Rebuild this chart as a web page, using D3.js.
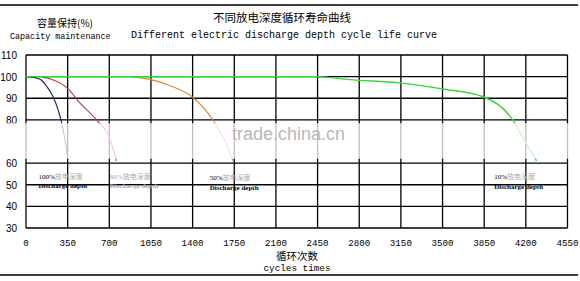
<!DOCTYPE html>
<head>
<meta charset="utf-8">
<style>
    body { margin: 0; background: #fff; }
    text { fill: #000; }
    .mono { font-family: "Liberation Mono", "DejaVu Sans Mono", monospace; }
    .cjk { font-family: "Noto Sans CJK SC", sans-serif; }
</style>
</head>
<body>
<script src="https://d3js.org/d3.v7.min.js"></script>
<script>

////////// DATA //////////

const xTicks = [0, 350, 700, 1050, 1400, 1750, 2100, 2450, 2800, 3150, 3500, 3850, 4200, 4550];
const yTicks = [30, 40, 50, 60, 80, 90, 100, 110];

// cycles / capacity % per discharge depth
const cyc100 = [0, 90, 134, 180, 227, 270, 294, 330, 350];
const cap100 = [100, 99.3, 98.2, 95, 90.8, 84.6, 80, 70, 63];
const cyc80 = [130, 200, 350, 450, 600, 700, 760];
const cap80 = [100, 99, 94.6, 88, 79.5, 72, 61];
const cyc50 = [880, 1050, 1200, 1410, 1570, 1690, 1740];
const cap50 = [100, 98.6, 96, 90, 80, 68, 61];
const cyc10 = [0, 2450, 2720, 3150, 3500, 3840, 4090, 4205, 4290];
const cap10 = [100, 100, 98.6, 97, 94.3, 90.7, 80, 69, 61];

const seriesNames = ['100%', '80%', '50%', '10%'];
const seriesColors = ['#1c1f5e', '#c23a3a', '#d68a3a', '#3fd23f'];

////////// SETUP //////////

const width = 580, height = 281;
let svg = d3.select('body').append('svg')
    .attr('width', width)
    .attr('height', height);

let x = d3.scaleLinear().domain([0, 4550]).range([26, 567.5]);
let y = d3.scaleLinear().domain([30, 110]).range([228, 55]);

// frame lines
svg.append('line').attr('x1', 0).attr('x2', 578).attr('y1', 5).attr('y2', 5)
    .attr('stroke', '#000').attr('stroke-width', 1.5);
svg.append('line').attr('x1', 0).attr('x2', 578).attr('y1', 275).attr('y2', 275)
    .attr('stroke', '#000').attr('stroke-width', 1.5);

// titles
svg.append('text').attr('class', 'cjk').attr('x', 65).attr('y', 27)
    .attr('text-anchor', 'middle').style('font-size', '10px').text('容量保持(%)');
svg.append('text').attr('class', 'mono').attr('x', 10).attr('y', 39)
    .style('font-size', '8.4px').text('Capacity maintenance');
svg.append('text').attr('class', 'cjk').attr('x', 282).attr('y', 22)
    .attr('text-anchor', 'middle').style('font-size', '11.5px').text('不同放电深度循环寿命曲线');
svg.append('text').attr('class', 'mono').attr('x', 131).attr('y', 38)
    .style('font-size', '10px').text('Different electric discharge depth cycle life curve');

////////// GRID //////////

let grid = svg.append('g');
grid.selectAll('.h').data(yTicks).enter().append('line')
    .attr('x1', x(0)).attr('x2', x(4550))
    .attr('y1', d => y(d)).attr('y2', d => y(d))
    .attr('stroke', '#000').attr('stroke-width', 1.3);
grid.selectAll('.v').data(xTicks).enter().append('line')
    .attr('x1', d => x(d)).attr('x2', d => x(d))
    .attr('y1', y(110)).attr('y2', y(30))
    .attr('stroke', '#000').attr('stroke-width', 1.3);

// tick labels
svg.append('g').selectAll('text').data(yTicks).enter().append('text')
    .attr('x', 17).attr('y', d => y(d) + 4)
    .attr('text-anchor', 'end')
    .style('font-family', 'Liberation Sans, Arial, sans-serif')
    .style('font-size', '10px')
    .text(d => d);
svg.append('g').selectAll('text').data(xTicks).enter().append('text')
    .attr('class', 'mono')
    .attr('x', d => x(d)).attr('y', 246)
    .attr('text-anchor', 'middle')
    .style('font-size', '9.2px')
    .text(d => d);

svg.append('text').attr('class', 'cjk').attr('x', 297).attr('y', 259.5)
    .attr('text-anchor', 'middle').style('font-size', '10.5px').text('循环次数');
svg.append('text').attr('class', 'mono').attr('x', 297).attr('y', 271)
    .attr('text-anchor', 'middle').style('font-size', '9.3px').text('cycles times');

////////// CURVES //////////

let line = d3.line()
    .x(d => x(d[0]))
    .y(d => y(d[1]))
    .curve(d3.curveMonotoneX);

const series = [
    d3.zip(cyc100, cap100),
    d3.zip(cyc80, cap80),
    d3.zip(cyc50, cap50),
    d3.zip(cyc10, cap10)
];

svg.append('g').selectAll('path').data(series).enter().append('path')
    .attr('d', line)
    .attr('fill', 'none')
    .attr('stroke', (d, i) => seriesColors[i])
    .attr('stroke-width', (d, i) => i === 3 ? 1.4 : 1.1);

// washed-out watermark band between 80 and 60
svg.append('rect')
    .attr('x', 0).attr('width', 578)
    .attr('y', y(78.5)).attr('height', y(62) - y(78.5))
    .attr('fill', '#fff').attr('opacity', 0.75);
svg.append('text').attr('x', 232).attr('y', 140)
    .style('font-family', 'Liberation Sans, Arial, sans-serif')
    .style('font-size', '18px')
    .style('fill', '#b8b8b8')
    .text('trade.china.cn');

////////// SERIES LABELS //////////

const labelCyc = [100, 700, 1540, 3930];
const labelGray = [false, true, false, false];

let labels = svg.append('g').selectAll('g').data(seriesNames).enter().append('g')
    .attr('transform', (d, i) => 'translate(' + (x(labelCyc[i]) + 0.5) + ',0)');
labels.append('text')
    .attr('y', (d, i) => i === 2 ? 180 : 179)
    .style('font-family', 'Liberation Serif, serif')
    .style('font-size', '7px')
    .style('fill', (d, i) => labelGray[i] ? '#aaa' : '#000')
    .text(d => d)
    .append('tspan')
    .attr('class', 'cjk')
    .style('fill', '#aaa')
    .text('放电深度');
labels.append('text')
    .attr('y', (d, i) => i === 2 ? 190 : (i === 3 ? 189 : 188))
    .style('font-family', 'Liberation Serif, serif')
    .style('font-size', '7px')
    .style('font-weight', 'bold')
    .style('fill', (d, i) => labelGray[i] ? '#aaa' : '#000')
    .text('Discharge depth');

</script>
</body>
